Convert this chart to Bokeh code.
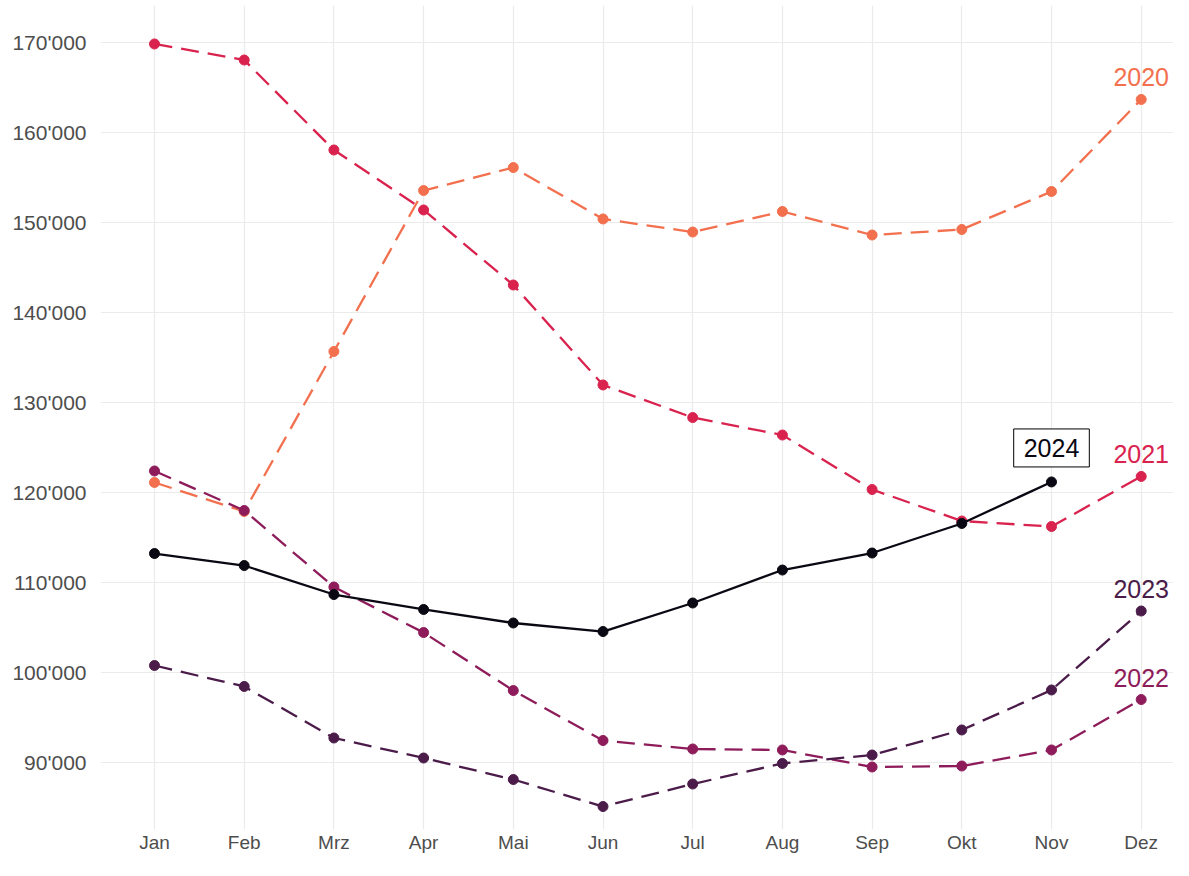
from bokeh.plotting import figure
from bokeh.models import Range1d, FixedTicker, Label, ColumnDataSource
from bokeh.embed import file_html
from bokeh.resources import INLINE

months = ["Jan", "Feb", "Mrz", "Apr", "Mai", "Jun", "Jul", "Aug", "Sep", "Okt", "Nov", "Dez"]
years = ["2020", "2021", "2022", "2023", "2024"]
y2020 = [121090, 117870, 135640, 153510, 156060, 150350, 148900, 151180, 148570, 149180, 153400, 163620]
y2021 = [169780, 168000, 158010, 151350, 143020, 131920, 128300, 126360, 120310, 116810, 116200, 121760]
y2022 = [122370, 117980, 109490, 104430, 97990, 92440, 91500, 91390, 89500, 89610, 91390, 96990]
y2023 = [100770, 98440, 92720, 90500, 88110, 85110, 87610, 89890, 90830, 93610, 98050, 106820]
y2024 = [113200, 111870, 108650, 106990, 105490, 104540, 107710, 111370, 113260, 116540, 121150]
colors = {"2020": "#F3704F", "2021": "#D9234E", "2022": "#8E1C5B", "2023": "#4B1C49", "2024": "#0A0812"}
yticks = [90000, 100000, 110000, 120000, 130000, 140000, 150000, 160000, 170000]

series = {"2020": y2020, "2021": y2021, "2022": y2022, "2023": y2023, "2024": y2024}

p = figure(width=1173, height=860, output_backend="svg", toolbar_location=None,
           x_range=Range1d(0.398, 12.36), y_range=Range1d(82560, 174053),
           min_border_left=100, min_border_right=0, min_border_top=5, min_border_bottom=31)
p.outline_line_color = None
p.background_fill_color = "white"

for yr in years:
    vals = series[yr]
    xs = list(range(1, len(vals) + 1))
    src = ColumnDataSource(dict(x=xs, y=vals))
    dash = "solid" if yr == "2024" else "18 9"
    p.line("x", "y", source=src, line_color=colors[yr], line_width=2.3, line_dash=dash)
    p.scatter("x", "y", source=src, size=10, fill_color=colors[yr], line_color=colors[yr])

# end labels for 2020-2023
for yr in ["2020", "2021", "2022", "2023"]:
    vals = series[yr]
    p.add_layout(Label(x=len(vals), y=vals[-1], text=yr, text_color=colors[yr],
                       text_font="Liberation Sans", text_font_size="25px",
                       text_align="center", text_baseline="bottom", y_offset=13))

lab = Label(x=len(y2024), y=y2024[-1], text="2024", text_color=colors["2024"],
            text_font="Liberation Sans", text_font_size="25px",
            text_align="center", text_baseline="bottom", y_offset=15,
            border_line_color="black", border_line_width=1,
            background_fill_color="white", padding=10)
p.add_layout(lab)

p.xaxis.ticker = FixedTicker(ticks=list(range(1, 13)))
p.xaxis.major_label_overrides = {i + 1: m for i, m in enumerate(months)}
p.yaxis.ticker = FixedTicker(ticks=yticks)
p.yaxis.major_label_overrides = {v: f"{v:,}".replace(",", "'") for v in yticks}

for ax in (p.xaxis[0], p.yaxis[0]):
    ax.axis_line_color = None
    ax.major_tick_line_color = None
    ax.minor_tick_line_color = None
    ax.major_tick_out = 0
    ax.major_tick_in = 0
    ax.major_label_text_color = "#4D4D4D"
    ax.major_label_text_font = "Liberation Sans"
p.yaxis.major_label_text_font_size = "21px"
p.xaxis.major_label_text_font_size = "19px"
p.yaxis.major_label_standoff = 14
p.xaxis.major_label_standoff = 2

p.xgrid.grid_line_color = "#EBEBEB"
p.ygrid.grid_line_color = "#EBEBEB"
p.xgrid.grid_line_width = 1.2
p.ygrid.grid_line_width = 1.2

open("out.html", "w").write(file_html(p, INLINE))
